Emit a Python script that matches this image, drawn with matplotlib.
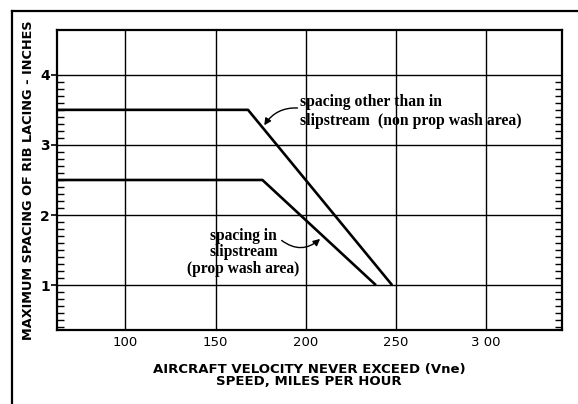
import numpy as np
import matplotlib
matplotlib.use("Agg")
import matplotlib.pyplot as plt
from matplotlib.lines import Line2D
from matplotlib.ticker import FixedLocator

# speed (mph) vs max rib lacing spacing (inches)
non_prop_speed = [62, 168, 248]
non_prop_spacing = [3.5, 3.5, 1.0]
prop_speed = [62, 176, 239]
prop_spacing = [2.5, 2.5, 1.0]

x_ticks = [100, 150, 200, 250, 300]
x_tick_labels = ["100", "150", "200", "250", "3 00"]
y_ticks = [1, 2, 3, 4]

fig = plt.figure(figsize=(5.78, 4.04), dpi=100)
ax = fig.add_axes([0.0986, 0.183, 0.873, 0.743])

ax.plot(non_prop_speed, non_prop_spacing, color="black", lw=1.9, solid_capstyle="butt")
ax.plot(prop_speed, prop_spacing, color="black", lw=1.9, solid_capstyle="butt")

ax.set_xlim(62, 342)
ax.set_ylim(0.36, 4.64)
ax.set_xticks(x_ticks)
ax.set_xticklabels(x_tick_labels)
ax.set_yticks(y_ticks)
ax.yaxis.set_minor_locator(FixedLocator(np.arange(0.4, 4.01, 0.1)))

ax.grid(True, which="major", color="black", lw=1.0)
ax.tick_params(axis="x", length=0, labelsize=9.5, pad=4)
ax.tick_params(axis="y", which="major", length=4, width=1.2, direction="out",
               labelsize=10, pad=1, right=False)
ax.tick_params(axis="y", which="minor", length=5, width=1.0, direction="in",
               left=True, right=True)
for lbl in ax.get_yticklabels():
    lbl.set_fontweight("bold")
for s in ax.spines.values():
    s.set_linewidth(1.6)

ax.set_xlabel("AIRCRAFT VELOCITY NEVER EXCEED (Vne)\nSPEED, MILES PER HOUR",
              fontsize=9.5, fontweight="bold", linespacing=0.95, labelpad=10)
ax.set_ylabel("MAXIMUM SPACING OF RIB LACING - INCHES",
              fontsize=9.3, fontweight="bold", labelpad=4)

serif = ["Liberation Serif", "DejaVu Serif"]
ax.annotate("spacing other than in\nslipstream  (non prop wash area)",
            xy=(177, 3.28), xytext=(197, 3.72), family=serif, fontsize=11.3,
            fontweight="bold", va="top", ha="left", linespacing=1.2,
            arrowprops=dict(arrowstyle="-|>", color="black", lw=1.0,
                            shrinkA=0, shrinkB=0, mutation_scale=10,
                            connectionstyle="arc3,rad=0.3",
                            relpos=(0, 0.6)))
ax.annotate("spacing in\nslipstream\n(prop wash area)",
            xy=(208, 1.66), xytext=(165.5, 1.82), family=serif, fontsize=11.2,
            fontweight="bold", va="top", ha="center", linespacing=1.05,
            arrowprops=dict(arrowstyle="-|>", color="black", lw=1.0,
                            shrinkA=0, shrinkB=0, mutation_scale=10,
                            connectionstyle="arc3,rad=0.4",
                            patchA=None, relpos=(0.84, 0.74)))

# partial outer frame (top and left edges)
fig.add_artist(Line2D([0.021, 1.0], [0.973, 0.973], color="black", lw=1.6))
fig.add_artist(Line2D([0.021, 0.021], [0.0, 0.973], color="black", lw=1.6))

fig.savefig("out.png", dpi=100)
